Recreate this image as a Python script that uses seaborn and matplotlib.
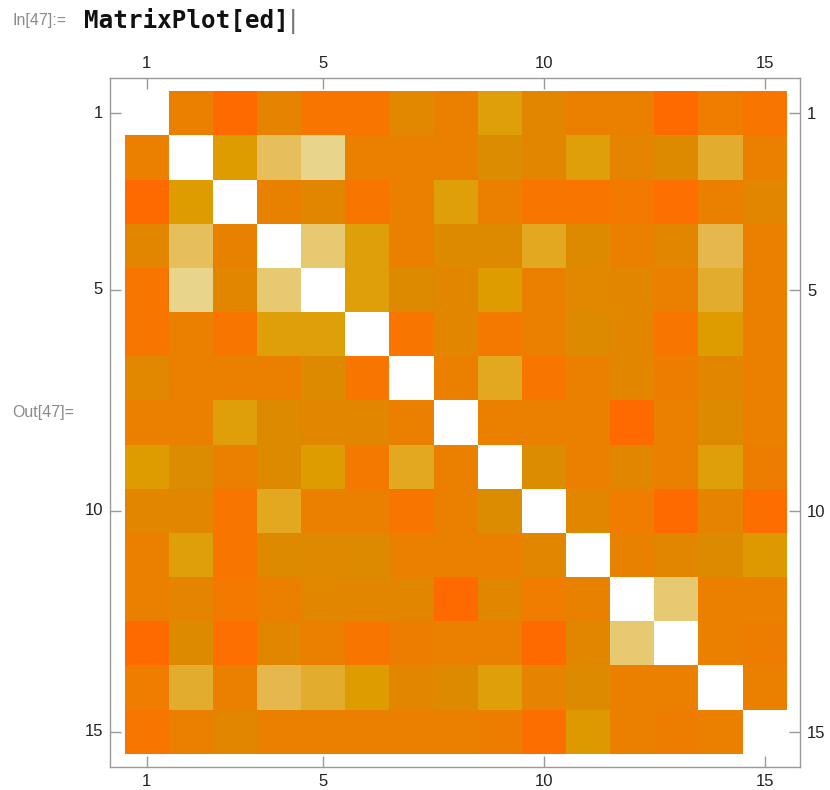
import numpy as np
import pandas as pd
import seaborn as sns
import matplotlib.pyplot as plt
from matplotlib.colors import LinearSegmentedColormap

# Matrix values (0 = diagonal, larger = more red-orange)
labels = list(range(1, 16))
tick_labels = ["1", "5", "10", "15"]
ed = [
    [0, .68, .95, .64, .80, .80, .58, .68, .42, .60, .68, .68, .95, .72, .80],
    [.68, 0, .44, .27, .18, .68, .68, .68, .52, .60, .42, .62, .54, .34, .68],
    [.95, .44, 0, .66, .60, .80, .68, .42, .68, .80, .80, .76, .88, .68, .60],
    [.60, .27, .66, 0, .23, .42, .68, .54, .54, .36, .54, .68, .60, .30, .68],
    [.80, .18, .60, .23, 0, .42, .54, .60, .44, .68, .58, .60, .68, .34, .68],
    [.80, .68, .80, .42, .42, 0, .80, .60, .76, .68, .55, .60, .80, .44, .68],
    [.58, .68, .68, .68, .54, .80, 0, .68, .36, .80, .68, .60, .70, .60, .68],
    [.68, .68, .42, .54, .60, .60, .68, 0, .68, .68, .68, .95, .68, .54, .68],
    [.44, .52, .68, .54, .44, .76, .36, .68, 0, .52, .68, .60, .68, .42, .70],
    [.60, .60, .80, .36, .68, .68, .80, .68, .52, 0, .60, .72, .95, .64, .90],
    [.68, .42, .80, .54, .56, .55, .68, .68, .68, .60, 0, .66, .60, .54, .46],
    [.68, .62, .76, .68, .60, .60, .60, .95, .60, .72, .66, 0, .23, .68, .68],
    [.95, .54, .88, .60, .68, .80, .70, .68, .68, .95, .60, .23, 0, .68, .70],
    [.72, .34, .68, .30, .34, .44, .60, .54, .42, .64, .54, .68, .68, 0, .68],
    [.80, .68, .60, .68, .68, .68, .68, .68, .70, .90, .46, .68, .70, .68, 0],
]

df = pd.DataFrame(ed, index=labels, columns=labels)

# Mathematica-like MatrixPlot palette: white -> pale yellow -> gold -> orange
cmap = LinearSegmentedColormap.from_list("mma", [
    (0.00, "#ffffff"),
    (0.18, "#e8d48a"),
    (0.24, "#e7c66c"),
    (0.30, "#e5b74c"),
    (0.36, "#e1a820"),
    (0.44, "#de9c00"),
    (0.52, "#dc8c00"),
    (0.60, "#e28600"),
    (0.68, "#eb7f00"),
    (0.80, "#f87600"),
    (0.95, "#ff6a00"),
    (1.00, "#ff6600"),
])

fig = plt.figure(figsize=(8.3, 7.9), dpi=100)
ax = fig.add_axes([110 / 830, 23 / 790, 690 / 830, 689 / 790])

sns.heatmap(df, cmap=cmap, vmin=0, vmax=1, cbar=False, ax=ax)

ax.set_xlim(-0.33, 15.3)
ax.set_ylim(15.3, -0.3)

pos = [0.5, 4.5, 9.5, 14.5]
ax.set_xticks(pos)
ax.set_xticklabels(tick_labels, rotation=0)
ax.set_yticks(pos)
ax.set_yticklabels(tick_labels, rotation=0)
ax.set_xlabel("")
ax.set_ylabel("")
ax.tick_params(axis="both", which="both", direction="in", length=8, width=1,
               color="#999999", labelsize=12, labelcolor="#222222",
               top=True, bottom=True, left=True, right=True,
               labeltop=True, labelbottom=True, labelleft=True, labelright=True,
               pad=5)
for lab in ax.get_xticklabels() + ax.get_yticklabels():
    lab.set_fontfamily("Liberation Sans")

for sp in ax.spines.values():
    sp.set_visible(True)
    sp.set_color("#999999")
    sp.set_linewidth(1)

# notebook decorations
fig.text(12 / 830, 1 - 21 / 790, "In[47]:=", color="#8a8a8a", fontsize=11.5,
         va="center", ha="left", family="Liberation Sans")
fig.text(84 / 830, 1 - 21 / 790, "MatrixPlot[ed]", color="#111111", fontsize=17.5,
         fontweight="bold", va="center", ha="left", family="DejaVu Sans Mono")
fig.text(289 / 830, 1 - 21 / 790, "|", color="#777777", fontsize=18,
         va="center", ha="left", family="DejaVu Sans")
fig.text(12 / 830, 1 - 413 / 790, "Out[47]=", color="#8a8a8a", fontsize=11.5,
         va="center", ha="left", family="Liberation Sans")

fig.savefig("out.png", dpi=100)
